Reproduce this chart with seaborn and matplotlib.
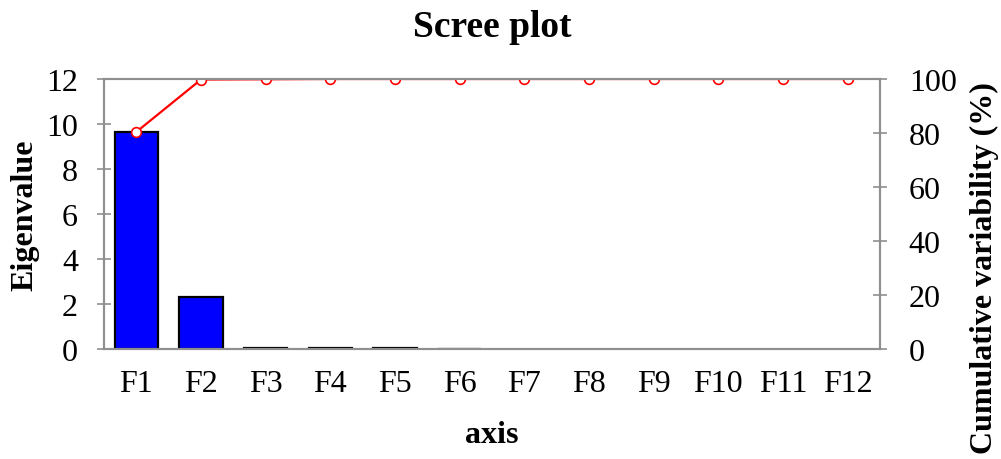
import matplotlib
matplotlib.use("Agg")
import matplotlib.pyplot as plt
import seaborn as sns
import pandas as pd

sns.set_theme(style="white")
plt.rcParams["font.family"] = ["Liberation Serif", "DejaVu Serif"]
plt.rcParams["text.color"] = "black"
plt.rcParams["axes.labelcolor"] = "black"
plt.rcParams["xtick.color"] = "black"
plt.rcParams["ytick.color"] = "black"

factors = ["F1", "F2", "F3", "F4", "F5", "F6", "F7", "F8", "F9", "F10", "F11", "F12"]
eigenvalues = [9.65, 2.3, 0.05, 0.04, 0.03, 0.02, 0, 0, 0, 0, 0, 0]
cumulative = [80.4, 99.8, 99.9, 100, 100, 100, 100, 100, 100, 100, 100, 100]

df = pd.DataFrame({"axis": factors, "eig": eigenvalues, "cum": cumulative})

fig = plt.figure(figsize=(10.01, 4.6), dpi=100)
ax = fig.add_axes([0.1039, 0.2391, 0.7752, 0.5870])

sns.barplot(data=df, x="axis", y="eig", color="#0000ff", saturation=1,
            width=0.67, edgecolor="black", linewidth=1.6, ax=ax)
# exactly-zero eigenvalues get no outline
for bar, val in zip(ax.patches, eigenvalues):
    if val == 0:
        bar.set_linewidth(0)
ax.set_xlim(-0.5, 11.5)
ax.set_ylim(0, 12)
ax.set_yticks(range(0, 13, 2))

grey = "#8f8f8f"
TICK_FS = 23
LABEL_FS = 23

def style_spines(a):
    for s in ["left", "right", "bottom", "top"]:
        a.spines[s].set_color(grey)
        a.spines[s].set_linewidth(1.5)

style_spines(ax)

# ticks sit on category boundaries, labels are centred under each bar
ax.set_xticks([i + 0.5 for i in range(-1, 12)])
ax.set_xticklabels([])
ax.set_xticks(range(12), minor=True)
ax.set_xticklabels(factors, minor=True)
ax.tick_params(axis="x", which="major", direction="inout", length=9.5, width=1.2, color=grey)
ax.tick_params(axis="x", which="minor", length=0, pad=14.5, labelsize=TICK_FS)
ax.tick_params(axis="y", direction="inout", length=9.5, width=1.2, color=grey,
               labelsize=TICK_FS, pad=14)

ax.set_xlabel("axis", fontsize=LABEL_FS, fontweight="bold")
ax.xaxis.set_label_coords(0.5, -0.263)
ax.set_ylabel("Eigenvalue", fontsize=LABEL_FS, fontweight="bold")
ax.yaxis.set_label_coords(-0.083, 0.5)

ax2 = ax.twinx()
sns.lineplot(data=df, x="axis", y="cum", color="red", linewidth=1.6, marker="o",
             markersize=7, markerfacecolor="white", markeredgecolor="red",
             markeredgewidth=1.2, ax=ax2)
ax2.set_ylim(0, 100)
ax2.set_yticks(range(0, 101, 20))
ax2.set_xlim(-0.5, 11.5)
style_spines(ax2)
ax2.tick_params(axis="y", direction="inout", length=9.5, width=1.2, color=grey,
                labelsize=TICK_FS, pad=16)
ax2.set_xlabel("")
ax2.set_ylabel("Cumulative variability (%)", fontsize=LABEL_FS, fontweight="bold")
ax2.yaxis.set_label_coords(1.116, 0.304)

fig.text(0.492, 1 - 37 / 460, "Scree plot", fontsize=27, fontweight="bold",
         ha="center", va="baseline")

fig.savefig("out.png", dpi=100)
